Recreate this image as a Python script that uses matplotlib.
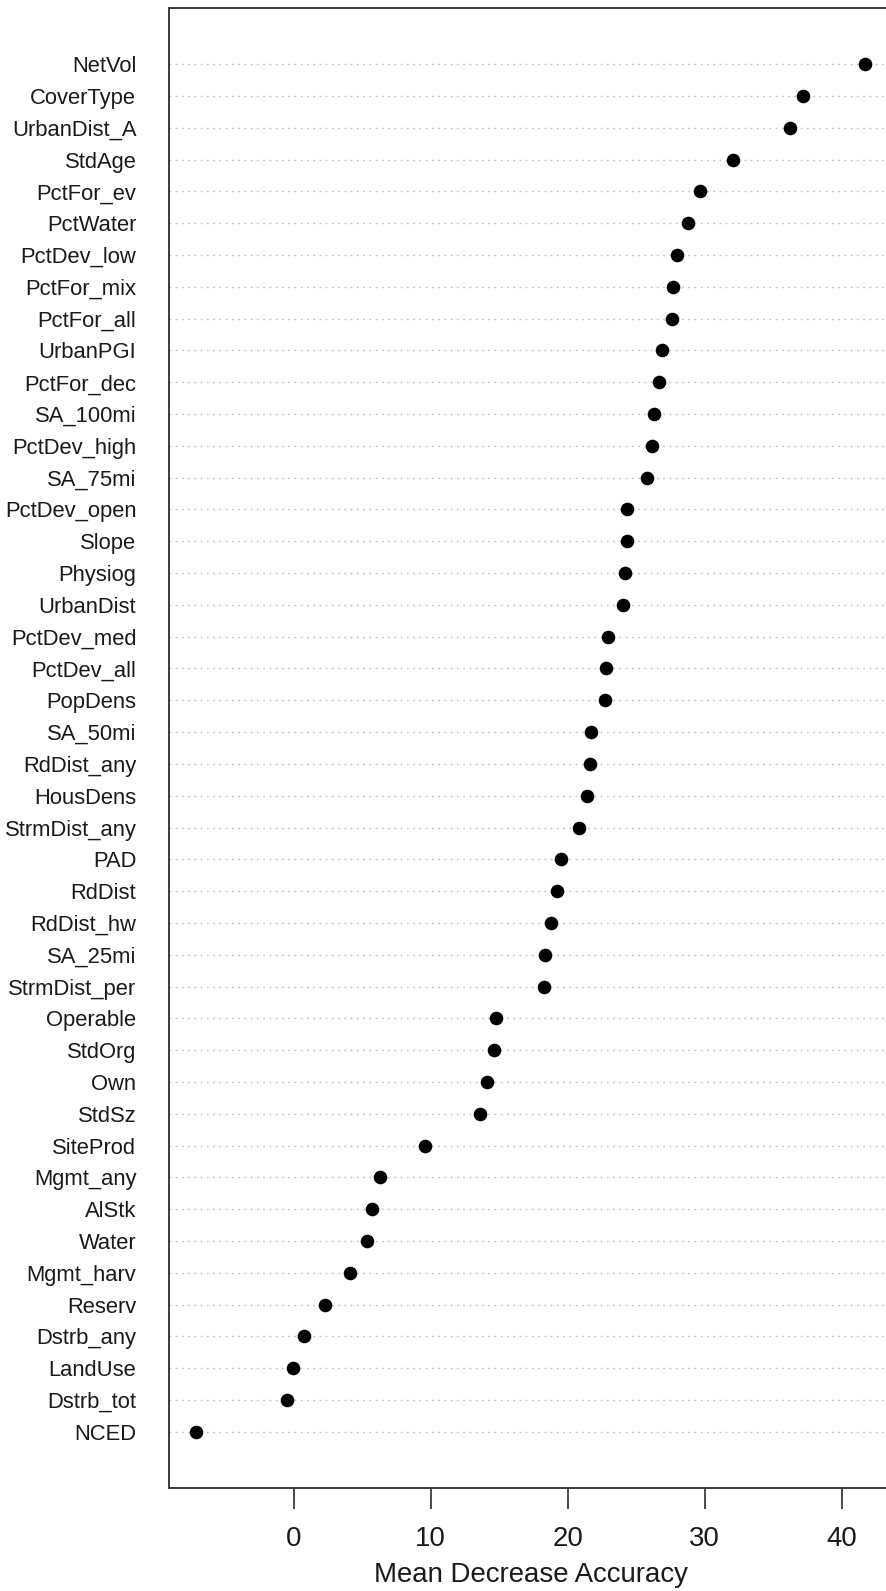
import matplotlib.pyplot as plt
import numpy as np

plt.rcParams['font.family'] = ['Liberation Sans', 'DejaVu Sans']

# variables, top to bottom as drawn
variables = [
    "NetVol", "CoverType", "UrbanDist_A", "StdAge", "PctFor_ev", "PctWater",
    "PctDev_low", "PctFor_mix", "PctFor_all", "UrbanPGI", "PctFor_dec",
    "SA_100mi", "PctDev_high", "SA_75mi", "PctDev_open", "Slope", "Physiog",
    "UrbanDist", "PctDev_med", "PctDev_all", "PopDens", "SA_50mi",
    "RdDist_any", "HousDens", "StrmDist_any", "PAD", "RdDist", "RdDist_hw",
    "SA_25mi", "StrmDist_per", "Operable", "StdOrg", "Own", "StdSz",
    "SiteProd", "Mgmt_any", "AlStk", "Water", "Mgmt_harv", "Reserv",
    "Dstrb_any", "LandUse", "Dstrb_tot", "NCED",
]
mean_decrease_accuracy = [
    41.72, 37.15, 36.25, 32.09, 29.66, 28.76,
    27.98, 27.66, 27.61, 26.86, 26.66,
    26.32, 26.15, 25.81, 24.31, 24.31, 24.18,
    24.06, 22.96, 22.82, 22.70, 21.68,
    21.65, 21.43, 20.82, 19.53, 19.24, 18.76,
    18.32, 18.27, 14.77, 14.62, 14.11, 13.60,
    9.61, 6.32, 5.74, 5.33, 4.09, 2.28,
    0.73, -0.03, -0.47, -7.15,
]
x_ticks = [0, 10, 20, 30, 40]

W, H = 886, 1591
fig = plt.figure(figsize=(W / 100, H / 100), dpi=100)
# axes runs past the right edge of the figure, like the cropped original
left_px, right_px, top_px, bottom_px = 169, 892, 8, 1488
ax = fig.add_axes([left_px / W, (H - bottom_px) / H,
                   (right_px - left_px) / W, (bottom_px - top_px) / H])

n = len(variables)
ypos = np.arange(n, 0, -1)
vals = np.array(mean_decrease_accuracy)

for y in ypos:
    ax.axhline(y, color='#bdbdbd', lw=1.0, linestyle=(0, (1.2, 3.3)), zorder=1)
ax.plot(vals, ypos, 'o', color='black', markersize=9.8, markeredgewidth=0, zorder=3)

rng = vals.max() - vals.min()
ax.set_xlim(vals.min() - 0.04 * rng, vals.max() + 0.04 * rng)
ax.set_ylim(-0.77, n + 1.77)

ax.set_yticks(ypos)
ax.set_yticklabels(variables, fontsize=15.8, color='#1a1a1a')
ax.tick_params(axis='y', length=0, pad=23.5)

ax.set_xticks(x_ticks)
ax.set_xticklabels([str(t) for t in x_ticks], fontsize=19.9, color='#1a1a1a')
ax.tick_params(axis='x', length=15, width=1.3, color='#3a3a3a', pad=12)
ax.set_xlabel("Mean Decrease Accuracy", fontsize=19.9, color='#1a1a1a', labelpad=7.5)

for side in ['left', 'right', 'top', 'bottom']:
    ax.spines[side].set_color('#3a3a3a')
    ax.spines[side].set_linewidth(1.4)

fig.savefig("out.png", dpi=100)
